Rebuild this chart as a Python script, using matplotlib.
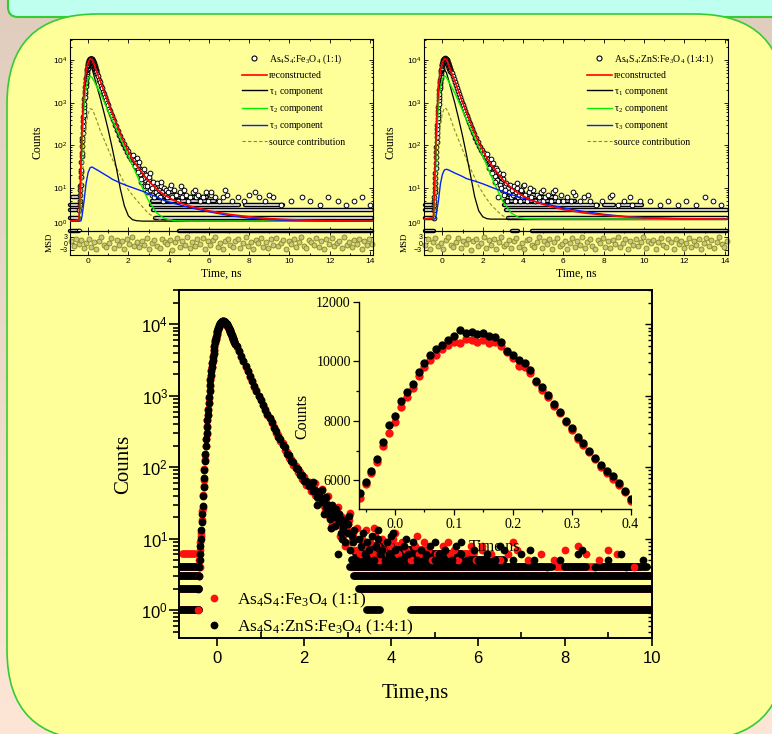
import numpy as np
import matplotlib
matplotlib.use('Agg')
import matplotlib.pyplot as plt
from matplotlib.patches import FancyBboxPatch
from matplotlib.lines import Line2D
from matplotlib.colors import LinearSegmentedColormap
from matplotlib.ticker import FuncFormatter, MultipleLocator, LogLocator, NullFormatter

plt.rcParams['font.family'] = ['Liberation Serif', 'DejaVu Serif']
plt.rcParams['mathtext.fontset'] = 'custom'
plt.rcParams['mathtext.rm'] = 'Liberation Serif'
plt.rcParams['mathtext.it'] = 'Liberation Serif:italic'
plt.rcParams['mathtext.sf'] = 'Liberation Sans'
plt.rcParams['mathtext.default'] = 'rm'

# ---- measured decay (time channels in ns, counts) ----
t_rise = [-0.44, -0.43, -0.42, -0.41, -0.40, -0.39, -0.38, -0.37, -0.36, -0.35,
          -0.34, -0.33, -0.32, -0.31, -0.30, -0.29, -0.28, -0.27, -0.26, -0.25,
          -0.24, -0.23, -0.22, -0.21, -0.20, -0.19, -0.18, -0.17, -0.16, -0.15,
          -0.14, -0.13, -0.12, -0.11, -0.10, -0.09, -0.08, -0.07]
t_peak = [-0.06, -0.05, -0.04, -0.03, -0.02, -0.01, 0.00, 0.01, 0.02, 0.03,
          0.04, 0.05, 0.06, 0.07, 0.08, 0.09, 0.10, 0.11, 0.12, 0.13,
          0.14, 0.15, 0.16, 0.17, 0.18, 0.19, 0.20, 0.21, 0.22, 0.23,
          0.24, 0.25, 0.26, 0.27, 0.28, 0.29, 0.30, 0.31, 0.32, 0.33,
          0.34, 0.35, 0.36, 0.37, 0.38, 0.39, 0.40]
t_decay = [0.45, 0.50, 0.55, 0.60, 0.65, 0.70, 0.75, 0.80, 0.85, 0.90,
           0.95, 1.00, 1.05, 1.10, 1.15, 1.20, 1.25, 1.30, 1.35, 1.40,
           1.45, 1.50, 1.55, 1.60, 1.65, 1.70, 1.75, 1.80, 1.85, 1.90,
           1.95, 2.00, 2.05, 2.10, 2.15, 2.20, 2.25, 2.30, 2.35, 2.40,
           2.45, 2.50, 2.55, 2.60, 2.65, 2.70, 2.75, 2.80, 2.85, 2.90,
           2.95, 3.00]

# As4S4:Fe3O4 (1:1)
rise_a = [1, 3, 5, 4, 7, 9, 11, 12, 18, 24, 27, 41, 55, 66, 95, 125, 150, 200, 250, 290,
          380, 460, 530, 660, 800, 940, 1200, 1380, 1700, 1900, 2300, 2500, 2900, 3100,
          3550, 3850, 4300, 4850]
peak_a = [5420, 5880, 6250, 6600, 7150, 7600, 7950, 8450, 8800, 9100,
          9500, 9800, 10050, 10200, 10400, 10550, 10650, 10600, 10750, 10700,
          10650, 10700, 10600, 10650, 10500, 10300, 10100, 9850, 9800, 9600,
          9300, 9050, 8800, 8500, 8250, 7950, 7700, 7400, 7200, 6950,
          6700, 6450, 6250, 6050, 5850, 5600, 5300]
decay_a = [4850, 4200, 3500, 3050, 2540, 2220, 1830, 1600, 1340, 1190,
           985, 880, 730, 645, 540, 490, 410, 370, 300, 285,
           230, 218, 172, 165, 134, 131, 106, 105, 85, 86,
           69, 73, 57, 61, 47, 52, 41, 45, 34, 39,
           29, 33, 24, 28, 20, 24, 17, 22, 15, 18, 13, 16]

# As4S4:ZnS:Fe3O4 (1:4:1)
rise_b = [2, 3, 4, 5, 6, 8, 10, 13, 17, 22, 29, 39, 52, 70, 92, 120, 155, 195, 245, 300,
          370, 450, 540, 640, 780, 960, 1170, 1400, 1650, 1950, 2250, 2550, 2850, 3150,
          3500, 3900, 4350, 4900]
peak_b = [5560, 5950, 6300, 6700, 7300, 7850, 8150, 8650, 8950, 9250,
          9650, 9950, 10200, 10400, 10550, 10700, 10850, 11050, 10950, 10980,
          10900, 10950, 10850, 10800, 10650, 10350, 10200, 10050, 9950, 9700,
          9350, 9150, 8850, 8550, 8300, 8000, 7750, 7450, 7250, 7000,
          6750, 6500, 6300, 6150, 5900, 5650, 5380]
decay_b = [4900, 4170, 3550, 3020, 2570, 2190, 1860, 1585, 1365, 1175,
           1000, 870, 740, 630, 550, 480, 425, 355, 325, 268,
           248, 202, 189, 152, 146, 121, 117, 96, 94, 78,
           77, 65, 65, 54, 54, 46, 48, 38, 40, 32,
           35, 27, 30, 23, 26, 20, 23, 17, 19, 14, 17, 12]

# scattered counts in the long tail
tail_t_a = [2.5, 2.58, 2.62, 2.68, 2.75, 2.82, 2.88, 2.93, 2.98, 3.03,
            3.08, 3.12, 3.18, 3.22, 3.28, 3.32, 3.38, 3.42, 3.48, 3.52,
            3.58, 3.62, 3.68, 3.72, 3.78, 3.82, 3.88, 3.92, 3.98, 4.05,
            4.15, 4.25, 4.35, 4.45, 4.55, 4.65, 4.75, 4.85, 4.95, 5.05,
            5.2, 5.35, 5.45, 5.55, 5.7, 5.85, 5.95, 6.1, 6.3, 6.5,
            6.7, 6.9, 7.15, 7.45, 7.75, 8.0, 8.5, 8.8, 9.2, 9.6,
            10.1, 10.6, 11.0, 11.5, 11.9, 12.4, 12.8, 13.2, 13.6, 14.0,
            2.25, 2.35, 2.42, 2.48, 2.55, 2.65, 2.77, 2.9, 3.06, 3.16,
            3.6, 4.1, 4.6, 5.3, 6.1, 6.8, 8.3, 9.0]
tail_c_a = [28, 21, 14, 25, 17, 11, 20, 8, 13, 18, 9, 12, 7, 14, 6, 10, 8, 13, 7, 9,
            6, 11, 8, 5, 10, 7, 9, 6, 8, 10, 6, 9, 7, 5, 8, 6, 9, 7, 5, 6,
            8, 6, 7, 5, 6, 8, 5, 7, 6, 5, 6, 7, 5, 6, 5, 7, 6, 5, 6, 4,
            5, 6, 5, 4, 6, 5, 4, 5, 6, 4,
            60, 33, 50, 24, 40, 16, 28, 11, 23, 10,
            14, 12, 11, 9, 8, 9, 8, 7]
tail_t_b = [2.55, 2.6, 2.65, 2.7, 2.78, 2.8, 2.85, 2.9, 2.95, 3.0,
            3.05, 3.1, 3.15, 3.2, 3.25, 3.3, 3.35, 3.4, 3.45, 3.5,
            3.55, 3.6, 3.65, 3.7, 3.75, 3.8, 3.85, 3.9, 3.95, 4.0,
            4.1, 4.2, 4.3, 4.4, 4.5, 4.6, 4.7, 4.8, 4.9, 5.0,
            5.1, 5.25, 5.4, 5.5, 5.6, 5.75, 5.9, 6.0, 6.2, 6.4,
            6.6, 6.8, 7.0, 7.3, 7.6, 7.9, 8.3, 8.7, 9.0, 9.4,
            9.8, 10.3, 10.8, 11.2, 11.7, 12.1, 12.6, 13.0, 13.4, 13.8,
            2.2, 2.3, 2.4, 2.45, 2.5, 2.62, 2.72, 2.88, 3.02, 3.12,
            3.7, 4.05, 4.35, 5.0, 5.6, 6.5, 7.2, 8.4, 9.3]
tail_c_b = [24, 19, 30, 15, 6, 22, 12, 18, 9, 16, 7, 11, 13, 5, 10, 8, 12, 6, 9, 7,
            11, 5, 8, 10, 6, 7, 5, 9, 6, 11, 7, 5, 8, 6, 9, 5, 7, 6, 8, 5,
            6, 7, 5, 8, 6, 5, 7, 5, 6, 5, 7, 5, 6, 5, 4, 5, 6, 4, 5, 4,
            5, 5, 4, 5, 4, 5, 4, 6, 5, 4,
            62, 30, 48, 22, 38, 14, 26, 10, 21, 9,
            13, 12, 10, 9, 9, 8, 7, 7, 6]

# runs of consecutive channels sitting on the same integer count: (count, t_start, t_end)
runs_a = [(1, -0.88, -0.43), (2, -0.88, -0.43), (3, -0.88, -0.43), (4, -0.88, -0.45),
          (6, -0.80, -0.52), (1, 3.32, 3.34), (1, 4.5, 14.1), (2, 3.3, 14.1),
          (3, 3.2, 14.1), (4, 3.1, 7.5), (4, 7.8, 9.7), (5, 3.15, 6.3), (6, 3.25, 5.9),
          (7, 3.35, 4.8), (8, 3.5, 4.2)]
runs_b = [(1, -0.88, -0.43), (2, -0.88, -0.43), (3, -0.88, -0.43), (4, -0.88, -0.43),
          (1, 3.45, 3.75), (1, 4.45, 14.1), (2, 3.25, 14.1), (3, 3.15, 14.1),
          (4, 3.05, 7.7), (4, 8.0, 8.5), (4, 8.8, 9.9), (5, 3.1, 6.6), (6, 3.2, 5.6),
          (7, 3.3, 4.6), (8, 3.4, 4.0)]

# ---- fitted components ----
fit_t = [-0.9, -0.45, -0.4, -0.35, -0.3, -0.2, -0.1, 0.0, 0.1, 0.2, 0.3, 0.45, 0.6, 0.8,
         1.0, 1.2, 1.4, 1.6, 1.8, 2.0, 2.2, 2.4, 2.7, 3.0, 3.4, 3.8, 4.3, 5.0, 6.0, 7.0,
         8.0, 9.0, 10.0, 11.5, 13.0, 14.1]
recon_a = [1.66, 1.8, 8, 45, 250, 2300, 5600, 8800, 10900, 10300, 7900, 5000, 3300, 1800,
           1000, 560, 320, 185, 112, 72, 48, 34, 22, 14.5, 9.5, 6.8, 5.0, 3.8, 2.9, 2.4,
           2.1, 1.9, 1.8, 1.72, 1.68, 1.66]
tau1_a = [1.66, 1.7, 5, 30, 170, 1500, 3900, 6200, 7300, 6200, 4200, 2300, 1300, 560,
          230, 85, 30, 9.5, 3.8, 2.2, 1.8, 1.7, 1.66, 1.66, 1.66, 1.66, 1.66, 1.66, 1.66, 1.66,
          1.66, 1.66, 1.66, 1.66, 1.66, 1.66]
tau2_a = [1.66, 1.7, 4, 20, 110, 900, 2300, 3700, 4300, 3900, 3200, 2300, 1700, 1050,
          640, 400, 245, 150, 92, 57, 34, 21, 10, 5, 2.6, 1.9, 1.7, 1.66, 1.66, 1.66,
          1.66, 1.66, 1.66, 1.66, 1.66, 1.66]
tau3_a = [1.66, 1.66, 1.66, 1.7, 2.2, 5, 13, 23, 30, 31, 29, 26.5, 24, 21,
          18.5, 16, 14.5, 13, 12, 11, 10.2, 9.4, 8.4, 7.3, 6.2, 5.0, 4.3, 3.5, 2.75, 2.25,
          1.95, 1.8, 1.72, 1.68, 1.66, 1.66]
source_a = [1.66, 1.66, 1.8, 3, 10, 90, 300, 560, 730, 700, 560, 360, 225, 135,
            80, 48, 30, 20, 13, 9, 6.8, 5.2, 3.6, 2.5, 1.9, 1.7, 1.66, 1.66, 1.66, 1.66,
            1.66, 1.66, 1.66, 1.66, 1.66, 1.66]
recon_b = [1.85, 2.0, 9, 50, 270, 2400, 5700, 8900, 11000, 10400, 8000, 5100, 3350, 1830,
           1020, 580, 335, 195, 118, 76, 51, 36, 23.5, 15.5, 10.2, 7.3, 5.4, 4.1, 3.1, 2.6,
           2.3, 2.1, 1.98, 1.9, 1.87, 1.85]
tau1_b = [1.85, 1.9, 5, 28, 160, 1300, 3300, 5300, 6000, 5100, 3500, 1900, 1050, 430,
          165, 58, 19, 6.2, 2.9, 2.1, 1.9, 1.85, 1.85, 1.85, 1.85, 1.85, 1.85, 1.85, 1.85, 1.85,
          1.85, 1.85, 1.85, 1.85, 1.85, 1.85]
tau2_b = [1.85, 1.9, 4, 21, 115, 950, 2350, 3750, 4350, 3950, 3250, 2350, 1750, 1080,
          660, 410, 250, 152, 93, 57, 34, 20, 9.5, 4.8, 2.6, 2.0, 1.87, 1.85, 1.85, 1.85,
          1.85, 1.85, 1.85, 1.85, 1.85, 1.85]
tau3_b = [1.85, 1.85, 1.85, 1.9, 2.4, 5, 12.5, 21, 26.5, 27.5, 26.5, 24.5, 22.5, 20.5,
          18.5, 16.5, 15.5, 14.5, 13.5, 12.5, 11.5, 10.5, 9.3, 8.2, 7.0, 6.1, 5.2, 4.3, 3.4, 2.8,
          2.4, 2.15, 2.0, 1.9, 1.87, 1.85]
source_b = [1.85, 1.85, 2.0, 3.3, 11, 95, 310, 580, 760, 720, 580, 370, 230, 135,
            78, 46, 28, 17.5, 11, 7.6, 5.5, 4.1, 2.9, 2.2, 1.9, 1.85, 1.85, 1.85, 1.85, 1.85,
            1.85, 1.85, 1.85, 1.85, 1.85, 1.85]

# residuals (MSD panels)
msd_a = [0.8, -1.2, 2.1, -0.4, 1.5, -2.3, 0.2, 1.9, -1.7, 0.6, -2.8, 1.1, 2.6, -0.9, -1.5,
         0.3, 2.2, -2.1, 1.4, -0.6, 0.9, -2.5, 1.8, -0.2, 2.9, -1.3, 0.5, -1.9, 1.2, -0.7,
         2.4, -2.6, 0.1, 1.6, -1.1, -2.2, 2.0, 0.7, -0.3, 1.3, -2.9, 0.4, 2.5, -1.6, 1.0,
         -0.8, 2.7, -2.0, 0.6, -1.4, 1.7, -0.5, 2.3, -2.4, 0.9, -1.0, 1.5, 2.8, -1.8, 0.2,
         -2.7, 1.1, 2.1, -0.6, -1.5, 0.8, 1.9, -2.2, 0.3, 2.6, -1.2, 0.5, -2.5, 1.4, -0.1,
         2.2, -1.7, 0.7, -2.0, 1.8, -0.9, 2.4, -1.3, 0.0, 1.6, -2.8, 1.0, -0.4, 2.0, -1.9,
         0.6, 2.7, -1.1, -2.3, 1.3, 0.4, -0.7, 2.5, -1.6, 0.9, -2.6, 1.7, -0.2, 2.3, -1.4,
         0.1, 1.2, -2.1, 2.9, -0.8, 0.5, -1.8, 1.5, -0.3, 2.1, -2.4, 0.8, -1.0, 1.9, -0.5]
msd_b = [-0.6, 1.9, -2.4, 0.7, 2.2, -1.1, 0.3, -2.7, 1.5, 2.8, -0.9, -1.8, 0.5, 2.4, -2.2,
         1.0, -0.3, 1.7, -2.9, 0.8, 2.1, -1.4, 0.0, 2.6, -2.0, 1.3, -0.7, 1.8, -2.5, 0.4,
         2.9, -1.2, -0.4, 1.6, -2.3, 0.9, 2.3, -1.7, 0.2, -2.8, 1.4, 2.0, -0.8, -1.5, 0.6,
         2.7, -2.1, 1.1, -0.2, 1.9, -2.6, 0.7, 2.5, -1.3, -0.5, 1.2, -2.4, 0.3, 2.2, -1.9,
         1.0, -0.6, 2.8, -2.0, 0.5, 1.7, -1.1, -2.7, 1.5, 0.1, 2.4, -1.6, 0.8, -2.3, 1.3,
         -0.4, 2.6, -1.8, 0.2, 1.9, -2.5, 0.9, -0.9, 2.1, -1.4, 0.6, 2.9, -2.2, 1.1, -0.1,
         1.6, -2.8, 0.4, 2.3, -1.0, -1.7, 1.8, 0.7, -2.4, 2.0, -0.5, 1.2, -2.1, 0.3, 2.5,
         -1.5, 0.9, -0.8, 1.7, -2.6, 0.1, 2.2, -1.2, 1.4, -2.0, 0.6, 2.7, -0.3, -1.6, 1.0]
msd_first, msd_last = -0.85, 14.1

label_a = 'As$_4$S$_4$:Fe$_3$O$_4$ (1:1)'
label_b = 'As$_4$S$_4$:ZnS:Fe$_3$O$_4$ (1:4:1)'
comp_labels = ['reconstructed', 'τ$_1$ component', 'τ$_2$ component',
               'τ$_3$ component', 'source contribution']

t_all = t_rise + t_peak + t_decay
counts_a = rise_a + peak_a + decay_a
counts_b = rise_b + peak_b + decay_b

W, H = 772, 734
fig = plt.figure(figsize=(W / 100, H / 100), dpi=100)


def px_axes(x0, y0, x1, y1):
    return fig.add_axes([x0 / W, 1 - y1 / H, (x1 - x0) / W, (y1 - y0) / H])


def pow_fmt(v, pos):
    return r'$\mathsf{10^{%d}}$' % round(np.log10(v))


# slide background
bg = px_axes(0, 0, W, H)
bg.axis('off')
cmap = LinearSegmentedColormap.from_list('slide', ['#E0CDBD', '#FDE6D6'])
bg.imshow(np.linspace(0, 1, 256)[:, None], extent=[0, W, H, 0], cmap=cmap, aspect='auto')
bg.add_patch(FancyBboxPatch((8, -20), 800, 37, boxstyle='round,pad=0,rounding_size=10',
                            fc='#BFFFF0', ec='#33CC33', lw=1.5))
bg.add_patch(FancyBboxPatch((7, 14), 778, 726, boxstyle='round,pad=0,rounding_size=90',
                            fc='#FFFF99', ec='#33CC33', lw=1.2))
bg.set_xlim(0, W)
bg.set_ylim(H, 0)

top_axes = []


def top_panel(x0, x1, label, counts, tail_t, tail_c, runs, recon, tau1, tau2, tau3,
              source, msd, leg_x, ylab_x, msd_x):
    ax = px_axes(x0, 39, x1, 230.5)
    axm = px_axes(x0, 230.5, x1, 255)
    for a in (ax, axm):
        a.set_facecolor('none')
        a.set_xlim(-0.9, 14.15)
        for s in a.spines.values():
            s.set_linewidth(0.8)
        a.xaxis.set_major_locator(MultipleLocator(2))
        a.xaxis.set_minor_locator(MultipleLocator(1))
        a.tick_params(which='both', direction='in', top=True, right=True, width=0.6,
                      labelsize=6, labelfontfamily='Liberation Sans', pad=2)
        a.tick_params(which='major', length=3)
        a.tick_params(which='minor', length=1.5)
    ax.set_yscale('log')
    ax.set_ylim(1, 10 ** 4.5)
    ax.yaxis.set_major_locator(LogLocator(base=10, numticks=10))
    ax.yaxis.set_major_formatter(FuncFormatter(pow_fmt))
    ax.yaxis.set_minor_formatter(NullFormatter())
    ax.tick_params(labelbottom=False)

    for level, s, e in runs:
        ax.plot([s, e], [level, level], color='black', lw=3.2, solid_capstyle='round',
                clip_on=False, zorder=2)
        ax.plot([s, e], [level, level], color='white', lw=1.1, solid_capstyle='round',
                clip_on=False, zorder=2)
    ax.plot(t_all, counts, 'o', ms=3.4, mfc='white', mec='black', mew=0.7, zorder=3)
    ax.plot(tail_t, tail_c, 'o', ms=3.4, mfc='white', mec='black', mew=0.7, zorder=3,
            clip_on=False)
    ax.plot(fit_t, source, color='#8C8C1E', lw=0.8, ls=(0, (3, 2)), zorder=4)
    ax.plot(fit_t, tau1, color='black', lw=0.9, zorder=4)
    ax.plot(fit_t, tau2, color='#00EE00', lw=1.0, zorder=4)
    ax.plot(fit_t, tau3, color='#0022FF', lw=1.0, zorder=4)
    ax.plot(fit_t, recon, color='#FF0000', lw=1.2, zorder=5)

    handles = [Line2D([], [], marker='o', ls='none', ms=3.6, mfc='white', mec='black', mew=0.8),
               Line2D([], [], color='#FF0000', lw=1.2),
               Line2D([], [], color='black', lw=1.0),
               Line2D([], [], color='#00EE00', lw=1.0),
               Line2D([], [], color='#0022FF', lw=1.0),
               Line2D([], [], color='#8C8C1E', lw=0.8, ls=(0, (3, 2)))]
    ax.legend(handles, [label] + comp_labels, loc='upper left', bbox_to_anchor=(leg_x, 0.93),
              frameon=False, fontsize=7, handlelength=2.6, handletextpad=0.2,
              labelspacing=0.55, borderpad=0, borderaxespad=0)
    ax.set_ylabel('Counts', fontsize=8.5)
    ax.yaxis.set_label_coords(ylab_x, 0.46)

    msd_t = np.linspace(msd_first, msd_last, len(msd))
    axm.plot(msd_t, msd, 'o', ms=3.6, mfc='#C8C884', mec='#85851A', mew=0.6, clip_on=False)
    axm.set_ylim(-5.3, 5.7)
    axm.set_yticks([-3, 0, 3])
    axm.tick_params(axis='y', labelsize=5, pad=1.5)
    axm.set_ylabel('MSD', fontsize=6.5)
    axm.yaxis.set_label_coords(msd_x, 0.5)
    axm.set_xlabel('Time, ns', fontsize=8.5, labelpad=2)
    top_axes.append(ax)


top_panel(70, 373, label_a, counts_a, tail_t_a, tail_c_a, runs_a, recon_a, tau1_a, tau2_a,
          tau3_a, source_a, msd_a, 0.567, -0.089, -0.053)
top_panel(424.3, 727.7, label_b, counts_b, tail_t_b, tail_c_b, runs_b, recon_b, tau1_b,
          tau2_b, tau3_b, source_b, msd_b, 0.535, -0.09, -0.05)

# ---- main comparison panel ----
ax = px_axes(179.2, 290, 651.6, 638.3)
ax.set_facecolor('none')
ax.set_yscale('log')
ax.set_xlim(-0.88, 10)
ax.set_ylim(10 ** -0.396, 10 ** 4.48)
for s in ax.spines.values():
    s.set_linewidth(1.4)
ms_main = 5.6
for runs, counts, tt, tc, col in [(runs_a, counts_a, tail_t_a, tail_c_a, '#FF1010'),
                                  (runs_b, counts_b, tail_t_b, tail_c_b, 'black')]:
    for level, s, e in runs:
        ax.plot([s, e], [level, level], color=col, lw=ms_main, solid_capstyle='round', zorder=2)
    ax.plot(t_all, counts, 'o', ms=ms_main, color=col, mew=0, zorder=3)
    ax.plot(tt, tc, 'o', ms=ms_main, color=col, mew=0, zorder=3)

ax.xaxis.set_major_locator(MultipleLocator(2))
ax.xaxis.set_minor_locator(MultipleLocator(1))
ax.yaxis.set_major_locator(LogLocator(base=10, numticks=10))
ax.yaxis.set_minor_locator(LogLocator(base=10, subs=np.arange(2, 10), numticks=10))
ax.yaxis.set_major_formatter(FuncFormatter(pow_fmt))
ax.yaxis.set_minor_formatter(NullFormatter())
ax.tick_params(which='both', width=1.2, labelsize=12, labelfontfamily='Liberation Sans')
ax.tick_params(axis='y', which='both', direction='out', pad=1)
ax.tick_params(axis='y', which='major', length=7)
ax.tick_params(axis='y', which='minor', length=4)
ax.tick_params(axis='x', which='major', direction='out', length=6, pad=3)
ax.tick_params(axis='x', which='minor', direction='in', length=4)
ax.set_xlabel('Time,ns', fontsize=15, labelpad=13)
ax.set_ylabel('Counts', fontsize=15, labelpad=6)

axr = ax.twinx()
axr.set_yscale('log')
axr.set_ylim(ax.get_ylim())
axr.yaxis.set_minor_locator(LogLocator(base=10, subs=np.arange(2, 10), numticks=10))
axr.yaxis.set_minor_formatter(NullFormatter())
axr.tick_params(which='both', direction='in', width=1.0, labelright=False)
axr.tick_params(which='major', length=5)
axr.tick_params(which='minor', length=3)
for s in axr.spines.values():
    s.set_visible(False)

leg_handles = [Line2D([], [], marker='o', ls='none', ms=ms_main, color='#FF1010', mew=0),
               Line2D([], [], marker='o', ls='none', ms=ms_main, color='black', mew=0)]
ax.legend(leg_handles, [label_a, label_b], loc='lower left', bbox_to_anchor=(0.056, 0.005),
          frameon=False, fontsize=12.5, handlelength=1.0, handletextpad=0.8,
          labelspacing=0.45, borderpad=0, borderaxespad=0)

# ---- inset: peak region ----
axi = px_axes(359.1, 301.7, 630.5, 509.3)
axi.set_facecolor('none')
axi.set_xlim(-0.061, 0.4)
axi.set_ylim(5025, 12000)
for side in ('top', 'right'):
    axi.spines[side].set_visible(False)
for side in ('left', 'bottom'):
    axi.spines[side].set_linewidth(1.0)
axi.plot(t_all, counts_a, 'o', ms=6, color='#FF1010', mew=0)
axi.plot(t_all, counts_b, 'o', ms=6, color='black', mew=0)
axi.xaxis.set_major_locator(MultipleLocator(0.1))
axi.xaxis.set_minor_locator(MultipleLocator(0.05))
axi.yaxis.set_major_locator(MultipleLocator(2000))
axi.yaxis.set_minor_locator(MultipleLocator(1000))
axi.xaxis.set_major_formatter(FuncFormatter(lambda v, p: '%.1f' % v))
axi.yaxis.set_major_formatter(FuncFormatter(lambda v, p: '%d' % v))
axi.tick_params(which='both', direction='out', width=0.9, labelsize=10, pad=2)
axi.tick_params(which='major', length=4)
axi.tick_params(which='minor', length=2.5)
axi.set_xlabel('Time,ns', fontsize=11.5, labelpad=6)
axi.set_ylabel('Counts', fontsize=11.5)
axi.yaxis.set_label_coords(-0.18, 0.45)

# lift the 10^0 label of the small panels so it clears the MSD tick labels
fig.canvas.draw()
for a in top_axes:
    for tick in a.yaxis.get_major_ticks():
        if abs(tick.get_loc() - 1) < 1e-9:
            tick.label1.set_va('bottom')

fig.savefig('out.png', dpi=100)
